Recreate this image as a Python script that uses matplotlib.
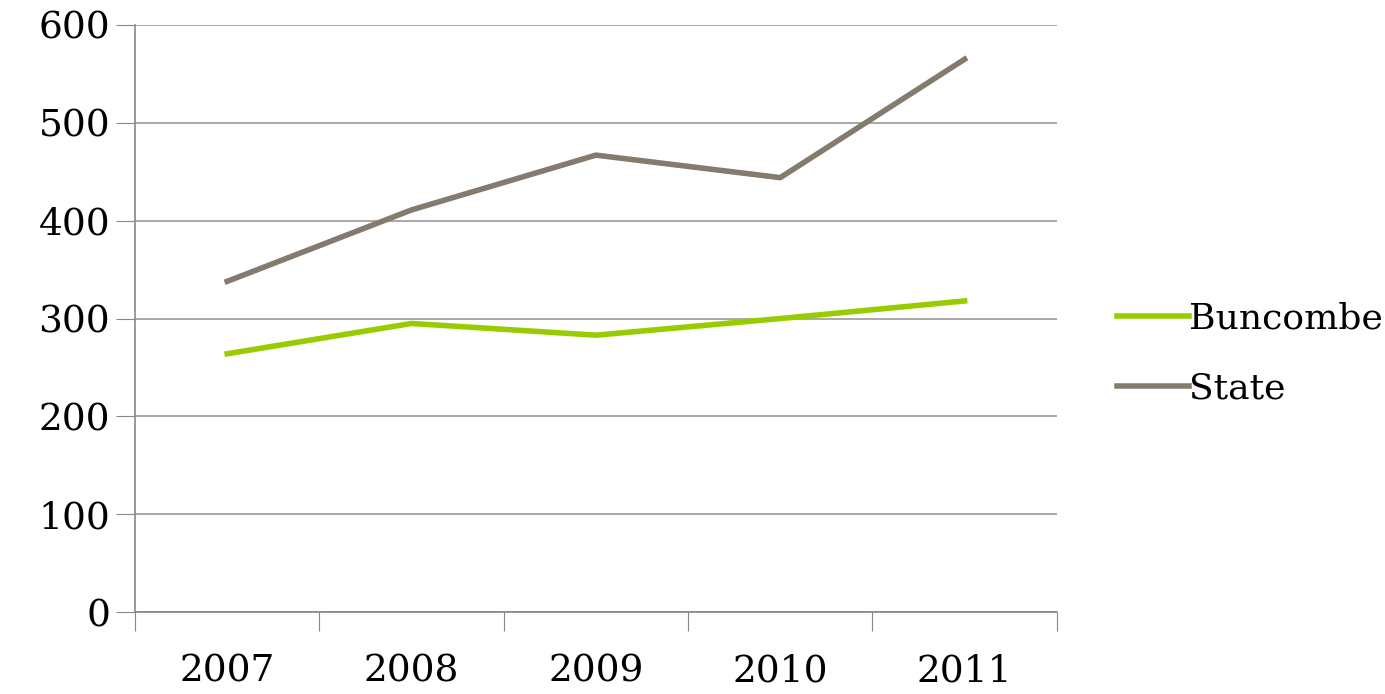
import numpy as np
import matplotlib.pyplot as plt

plt.rcParams['font.family'] = ['DejaVu Serif']

years = ['2007', '2008', '2009', '2010', '2011']
buncombe = [264, 295, 283, 300, 318]
state = [338, 411, 467, 444, 565]

fig = plt.figure(figsize=(13.85, 6.94), dpi=100)
ax = fig.add_axes([0.0975, 0.118, 0.6655, 0.846])

x = np.arange(len(years))
ax.plot(x, buncombe, color='#99cc00', lw=4, label='Buncombe')
ax.plot(x, state, color='#857a6e', lw=4, label='State')

ax.set_xlim(-0.5, len(years) - 0.5)
ax.set_ylim(0, 600)
ax.set_yticks(range(0, 601, 100))
ax.set_xticks(np.arange(-0.5, len(years), 1.0))
ax.set_xticklabels([])
ax.set_xticks(x, minor=True)
ax.set_xticklabels(years, minor=True)
ax.tick_params(axis='x', which='minor', length=0, labelsize=27, pad=30)
ax.tick_params(axis='x', which='major', length=14, color='#888888')
ax.tick_params(axis='y', length=14, color='#888888', labelsize=27, pad=4)
ax.grid(axis='y', color='#999999', lw=1.2)
for s in ['top', 'right']:
    ax.spines[s].set_visible(False)
for s in ['left', 'bottom']:
    ax.spines[s].set_color('#888888')
    ax.spines[s].set_linewidth(1.2)

ax.legend(loc='center left', bbox_to_anchor=(1.03, 0.44), frameon=False,
          fontsize=26, handlelength=2.0, handletextpad=0.0, labelspacing=1.0)

fig.savefig('out.png', dpi=100)
